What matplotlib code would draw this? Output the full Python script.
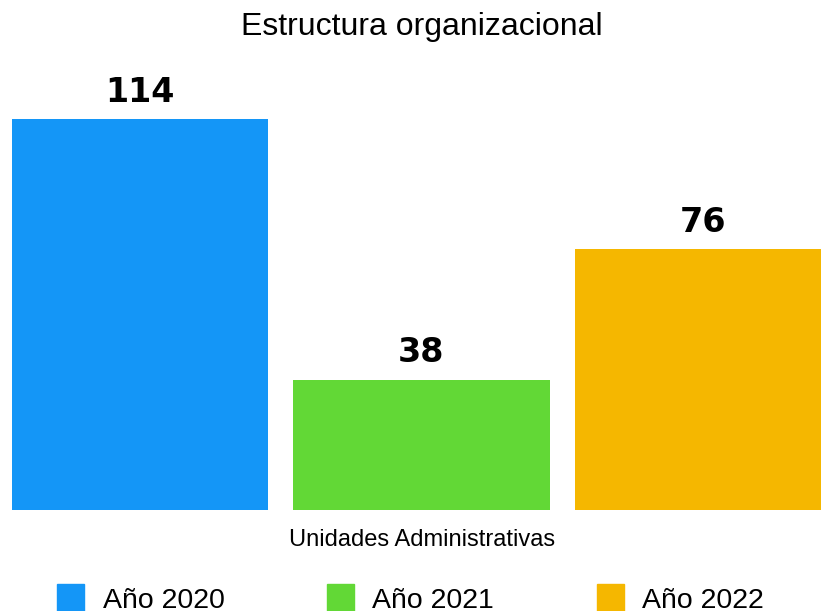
import matplotlib.pyplot as plt
import matplotlib.patches as mpatches

# datos de la estructura organizacional
years = ["Año 2020", "Año 2021", "Año 2022"]
units = [114, 38, 76]
colors = ["#1496f7", "#62d836", "#f5b700"]

plt.rcParams['font.family'] = ['Liberation Sans', 'DejaVu Sans']

fig = plt.figure(figsize=(8.21, 6.11), dpi=100)
ax = fig.add_axes([0, 101/611, 1, 391/611])

x = list(range(len(units)))
bars = ax.bar(x, units, width=0.91, color=colors)
for b, v in zip(bars, units):
    ax.text(b.get_x() + b.get_width()/2, v + 3, str(v), ha='center', va='bottom',
            fontsize=24, fontweight='bold', family='DejaVu Sans', clip_on=False)

ax.set_xlim(-0.497, 2.419)
ax.set_ylim(0, 114)
ax.axis('off')

fig.text(0.514, 1 - 27/611, "Estructura organizacional", ha='center', va='center', fontsize=23)
fig.text(0.514, 1 - 540/611, "Unidades Administrativas", ha='center', va='center', fontsize=17)

# leyenda manual
handles = [mpatches.Patch(color=c, label=l) for c, l in zip(colors, years)]
fig.legend(handles=handles, loc='center', bbox_to_anchor=(0.5, 1 - 599/611), ncol=3,
           frameon=False, fontsize=20.5, handlelength=0.95, handleheight=1.2,
           handletextpad=0.65, columnspacing=3.6)

fig.savefig("out.png", dpi=100)
